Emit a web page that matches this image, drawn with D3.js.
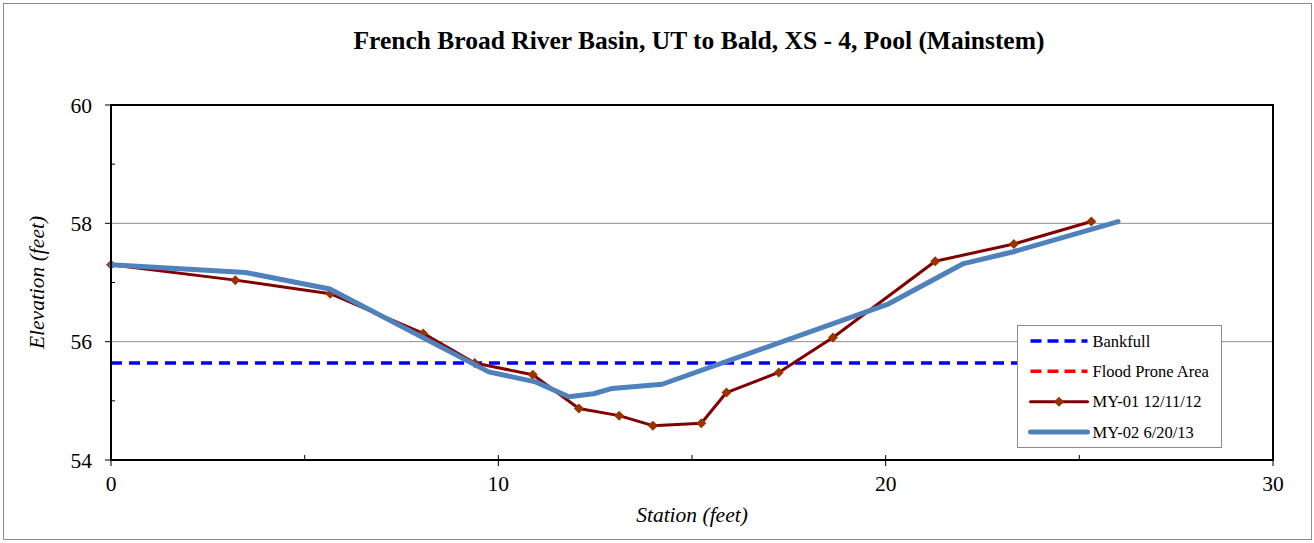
<!DOCTYPE html>
<html>
<head>
<meta charset="utf-8">
<script src="https://cdn.jsdelivr.net/npm/d3@7"></script>
<style>
	body { margin: 0; background: #fff; }
</style>
</head>
<body>
<div id="chart"></div>
<script>
// data
const my01Station = [0, 3.21, 5.66, 8.06, 9.39, 10.89, 12.08, 13.12, 13.99, 15.24, 15.89, 17.24, 18.64, 21.28, 23.31, 25.31];
const my01Elev = [57.30, 57.04, 56.81, 56.14, 55.64, 55.44, 54.87, 54.75, 54.58, 54.62, 55.14, 55.48, 56.07, 57.36, 57.65, 58.03];

const my02Station = [0, 3.47, 5.65, 9.75, 10.96, 11.82, 12.46, 12.94, 14.23, 20.08, 22.01, 23.30, 26.0];
const my02Elev = [57.30, 57.17, 56.89, 55.49, 55.32, 55.07, 55.12, 55.21, 55.28, 56.64, 57.32, 57.52, 58.03];

const bankfullStation = [0, 26.0];
const bankfullElev = [55.64, 55.64];

// flood prone line is not visible in the plot range
const floodStation = [];
const floodElev = [];

const xTicks = [0, 10, 20, 30];
const xMinorTicks = [5, 15, 25];
const yTicks = [54, 56, 58, 60];
const yMinorTicks = [55, 57, 59];
const gridValues = [56, 58];

const legendNames = ['Bankfull', 'Flood Prone Area', 'MY-01 12/11/12', 'MY-02 6/20/13'];

const serif = '"Liberation Serif", "Times New Roman", serif';

const width = 1314;
const height = 543;
const m = { left: 111, right: 41, top: 105, bottom: 83 };

const svg = d3.select('#chart')
	.append('svg')
	.attr('width', width)
	.attr('height', height)
	.style('font-family', serif);

// outer frame
svg.append('rect')
	.attr('x', 3.5)
	.attr('y', 3.5)
	.attr('width', width - 6)
	.attr('height', 536)
	.attr('fill', '#fff')
	.attr('stroke', '#8c8c8c')
	.attr('stroke-width', 1);

const x = d3.scaleLinear()
	.domain([0, 30])
	.range([m.left, width - m.right]);

const y = d3.scaleLinear()
	.domain([54, 60])
	.range([height - m.bottom, m.top]);

// gridlines
svg.selectAll('.grid')
	.data(gridValues)
	.join('line')
	.attr('class', 'grid')
	.attr('x1', x(0))
	.attr('x2', x(30))
	.attr('y1', d => y(d))
	.attr('y2', d => y(d))
	.attr('stroke', '#8c8c8c')
	.attr('stroke-width', 1);

// ticks
const tickG = svg.append('g').attr('stroke', '#000').attr('stroke-width', 1);
tickG.selectAll('.ymaj')
	.data(yTicks)
	.join('line')
	.attr('x1', x(0) - 6).attr('x2', x(0))
	.attr('y1', d => y(d)).attr('y2', d => y(d));
tickG.selectAll('.ymin')
	.data(yMinorTicks)
	.join('line')
	.attr('x1', x(0)).attr('x2', x(0) + 4)
	.attr('y1', d => y(d)).attr('y2', d => y(d));
tickG.selectAll('.xmaj')
	.data(xTicks)
	.join('line')
	.attr('x1', d => x(d)).attr('x2', d => x(d))
	.attr('y1', y(54) - 5).attr('y2', y(54) + 6);
tickG.selectAll('.xmin')
	.data(xMinorTicks)
	.join('line')
	.attr('x1', d => x(d)).attr('x2', d => x(d))
	.attr('y1', y(54) - 5).attr('y2', y(54));

// tick labels
svg.selectAll('.ylab')
	.data(yTicks)
	.join('text')
	.attr('x', x(0) - 19)
	.attr('y', d => y(d))
	.attr('dy', '0.35em')
	.attr('text-anchor', 'end')
	.style('font-family', serif)
	.style('font-size', '21.5px')
	.text(d => d);

svg.selectAll('.xlab')
	.data(xTicks)
	.join('text')
	.attr('x', d => x(d))
	.attr('y', y(54) + 31)
	.attr('text-anchor', 'middle')
	.style('font-family', serif)
	.style('font-size', '21.5px')
	.text(d => d);

// axis titles
svg.append('text')
	.attr('x', (x(0) + x(30)) / 2)
	.attr('y', 522)
	.attr('text-anchor', 'middle')
	.style('font-family', serif)
	.style('font-size', '21.5px')
	.style('font-style', 'italic')
	.text('Station (feet)');

svg.append('text')
	.attr('transform', `translate(44, ${(y(54) + y(60)) / 2}) rotate(-90)`)
	.attr('text-anchor', 'middle')
	.style('font-family', serif)
	.style('font-size', '21.5px')
	.style('font-style', 'italic')
	.text('Elevation (feet)');

svg.append('text')
	.attr('x', 699)
	.attr('y', 49)
	.attr('text-anchor', 'middle')
	.style('font-family', serif)
	.style('font-size', '25.5px')
	.style('font-weight', 'bold')
	.text('French Broad River Basin, UT to Bald, XS - 4, Pool (Mainstem)');

const line = d3.line()
	.x(d => x(d[0]))
	.y(d => y(d[1]));

const bankfull = d3.zip(bankfullStation, bankfullElev);
const flood = d3.zip(floodStation, floodElev);
const my01 = d3.zip(my01Station, my01Elev);
const my02 = d3.zip(my02Station, my02Elev);

svg.append('path')
	.datum(bankfull)
	.attr('d', line)
	.attr('fill', 'none')
	.attr('stroke', '#0000ff')
	.attr('stroke-width', 3.5)
	.attr('stroke-dasharray', '11,7');

if (flood.length) {
	svg.append('path')
		.datum(flood)
		.attr('d', line)
		.attr('fill', 'none')
		.attr('stroke', '#ff0000')
		.attr('stroke-width', 3.5)
		.attr('stroke-dasharray', '11,7');
}

svg.append('path')
	.datum(my01)
	.attr('d', line)
	.attr('fill', 'none')
	.attr('stroke', '#800000')
	.attr('stroke-width', 3)
	.attr('stroke-linejoin', 'round');

// square diamond marker, about 10px across
const diamond = 'M0,-5L5,0L0,5L-5,0Z';

svg.selectAll('.mk')
	.data(my01)
	.join('path')
	.attr('class', 'mk')
	.attr('transform', d => `translate(${x(d[0])},${y(d[1])})`)
	.attr('d', diamond)
	.attr('fill', '#993300');

svg.append('path')
	.datum(my02)
	.attr('d', line)
	.attr('fill', 'none')
	.attr('stroke', '#4f81bd')
	.attr('stroke-width', 5)
	.attr('stroke-linejoin', 'round')
	.attr('stroke-linecap', 'round');

// plot frame
svg.append('rect')
	.attr('x', x(0))
	.attr('y', y(60))
	.attr('width', x(30) - x(0))
	.attr('height', y(54) - y(60))
	.attr('fill', 'none')
	.attr('stroke', '#000')
	.attr('stroke-width', 2);

// legend
const lg = svg.append('g').attr('transform', 'translate(1017.5, 325.5)');
lg.append('rect')
	.attr('width', 204)
	.attr('height', 122)
	.attr('fill', '#fff')
	.attr('stroke', '#8c8c8c')
	.attr('stroke-width', 1);

const rowY = d3.scalePoint().domain(legendNames).range([15.5, 106.5]);

const samples = [
	{ stroke: '#0000ff', w: 3.5, dash: '11,6' },
	{ stroke: '#ff0000', w: 3.5, dash: '11,6' },
	{ stroke: '#800000', w: 3, dash: null, marker: true },
	{ stroke: '#4f81bd', w: 5, dash: null }
];

legendNames.forEach((name, i) => {
	const s = samples[i];
	const ry = rowY(name);
	lg.append('line')
		.attr('x1', 13).attr('x2', 70)
		.attr('y1', ry).attr('y2', ry)
		.attr('stroke', s.stroke)
		.attr('stroke-width', s.w)
		.attr('stroke-dasharray', s.dash)
		.attr('stroke-linecap', s.dash ? null : 'round');
	if (s.marker) {
		lg.append('path')
			.attr('transform', `translate(41.5,${ry})`)
			.attr('d', diamond)
			.attr('fill', '#993300');
	}
	lg.append('text')
		.attr('x', 75)
		.attr('y', ry)
		.attr('dy', '0.35em')
		.style('font-family', serif)
		.style('font-size', '16.5px')
		.text(name);
});
</script>
</body>
</html>
